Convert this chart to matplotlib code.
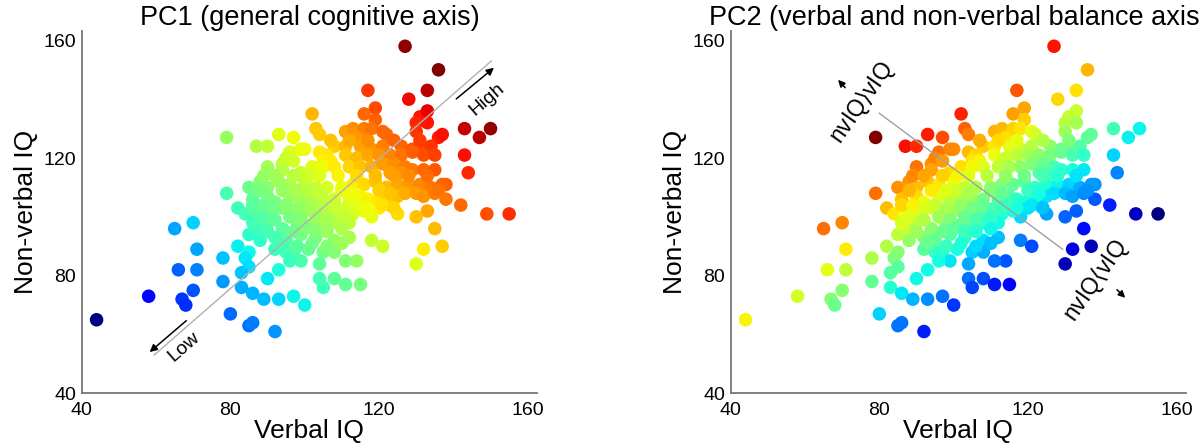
import numpy as np
import matplotlib
matplotlib.use("Agg")
import matplotlib.pyplot as plt

plt.rcParams['font.family'] = ['Liberation Sans', 'DejaVu Sans']

# verbal IQ / non-verbal IQ (same subjects in both panels)
viq = [44, 58, 65, 70, 71, 66, 71, 70, 67, 68, 79, 79, 82, 78, 78, 80, 85, 86, 92, 83,
       86, 89, 93, 90, 93, 97, 100, 104, 105, 108, 111, 115, 114, 82, 85, 84, 85, 83, 85, 88,
       87, 102, 103, 104, 93, 97, 87, 90, 100, 117, 119, 128, 133, 127, 136, 116, 119, 131, 133, 130,
       133, 130, 136, 137, 143, 150, 147, 143, 144, 142, 149, 155, 138, 138, 133, 130, 135, 137, 132, 130,
       118, 121, 125, 123, 118,
       111, 113, 116, 118, 121, 122, 114,
       108, 111, 115, 118, 121, 126, 129, 131, 134, 96, 99, 104, 106,
       94, 95, 97, 105, 107, 111, 114, 117, 120, 123, 126, 129, 132, 135,
       90, 94, 99, 102, 105, 108, 112, 115, 118, 121, 124, 127, 129, 132, 135, 123, 126,
       85, 88, 90, 93, 96, 100, 103, 106, 110, 113, 116, 119, 122, 125, 128, 131, 134, 137,
       86, 90, 92, 96, 99, 102, 105, 108, 112, 115, 117, 119, 122, 125, 127, 130, 132, 135,
       84, 87, 90, 94, 97, 100, 103, 106, 109, 113, 116, 120,
       86, 90, 94, 98, 101, 104, 108, 112,
       92, 95, 99, 103, 108, 112,
       92, 95, 97, 99, 101, 105, 108, 111, 96, 104,
       89, 92, 97, 101, 104, 109, 114, 119, 124, 128, 133,
       88, 94, 98, 101, 104, 110, 113, 120, 123, 136,
       86, 89, 92, 95, 98, 102, 105, 108, 111, 114, 117, 121, 124,
       88, 92, 96, 99, 103, 106, 110,
       90, 97, 100, 103, 106, 110,
       93, 98, 102, 106, 110,
       107, 112, 117, 124, 131]
nviq = [65, 73, 96, 98, 89, 82, 82, 75, 72, 70, 127, 108, 103, 86, 78, 67, 63, 64, 61, 76,
        74, 72, 72, 79, 82, 73, 70, 79, 76, 79, 77, 77, 85, 90, 88, 86, 83, 81, 94, 92,
        96, 135, 130, 128, 128, 127, 124, 124, 123, 143, 137, 140, 143, 158, 150, 135, 133, 134, 136, 132,
        132, 129, 127, 128, 130, 130, 127, 121, 115, 104, 101, 101, 111, 106, 102, 100, 96, 90, 89, 84,
        92, 90, 101, 104, 100,
        129, 130, 130, 130, 129, 128, 127,
        124, 124, 124, 123, 124, 124, 123, 124, 124, 122, 123, 122, 121,
        118, 120, 119, 119, 119, 121, 120, 121, 121, 121, 121, 122, 121, 121,
        117, 116, 115, 117, 117, 117, 117, 117, 117, 118, 118, 117, 116, 116, 116, 115, 115,
        110, 112, 110, 112, 111, 112, 110, 110, 110, 111, 111, 112, 110, 111, 111, 111, 110, 111,
        106, 107, 105, 107, 106, 107, 106, 106, 106, 107, 106, 105, 107, 107, 108, 108, 107, 108,
        101, 101, 102, 103, 101, 102, 101, 101, 102, 101, 102, 103,
        98, 98, 96, 98, 97, 98, 98, 98,
        93, 92, 94, 93, 92, 93,
        89, 88, 88, 85, 89, 88, 88, 85, 85, 84,
        114, 114, 114, 114, 114, 114, 114, 114, 114, 114, 114,
        109, 109, 109, 109, 108, 109, 108, 109, 108, 109,
        104, 104, 103, 104, 103, 104, 103, 104, 103, 104, 103, 104, 103,
        100, 99, 100, 99, 100, 99, 100,
        95, 95, 96, 95, 95, 96,
        91, 90, 91, 90, 91,
        126, 126, 126, 126, 126]

ticks = [40, 80, 120, 160]
titles = ['PC1 (general cognitive axis)', 'PC2 (verbal and non-verbal balance axis)']

data = np.column_stack([viq, nviq]).astype(float)
centered = data - data.mean(axis=0)
u, s, vt = np.linalg.svd(centered, full_matrices=False)
scores = centered @ vt.T
if np.corrcoef(scores[:, 0], data.sum(axis=1))[0, 1] < 0:
    scores[:, 0] *= -1
if np.corrcoef(scores[:, 1], data[:, 1] - data[:, 0])[0, 1] < 0:
    scores[:, 1] *= -1


def norm(v):
    return (v - v.min()) / (v.max() - v.min())


fig = plt.figure(figsize=(12, 4.45), dpi=100)
ax1 = fig.add_axes([0.0681, 0.1162, 0.3794, 0.8142])
ax2 = fig.add_axes([0.6089, 0.1162, 0.3794, 0.8142])

for i, ax in enumerate([ax1, ax2]):
    ax.scatter(viq, nviq, s=95, c=plt.cm.jet(norm(scores[:, i])), edgecolors='none', zorder=3)
    ax.set_xlim(40, 162.5)
    ax.set_ylim(40, 163.2)
    ax.set_xticks(ticks)
    ax.set_yticks(ticks)
    ax.tick_params(length=0, labelsize=14, pad=4)
    ax.tick_params(axis='x', pad=6)
    for side in ['top', 'right']:
        ax.spines[side].set_visible(False)
    for side in ['left', 'bottom']:
        ax.spines[side].set_color('#777777')
        ax.spines[side].set_linewidth(1.3)
    ax.set_xlabel('Verbal IQ', fontsize=19, labelpad=0)
    ax.set_ylabel('Non-verbal IQ', fontsize=19, labelpad=4)
    ax.set_title(titles[i], fontsize=19.5, pad=4)

arrow = dict(arrowstyle='-|>', color='k', lw=1.1, mutation_scale=11)

# PC1 axis
ax1.plot([59.5, 150.2], [53.0, 153.0], color='#b0b0b0', lw=1, zorder=4)
ax1.annotate('', xy=(151.5, 151.3), xytext=(140.2, 139.5), arrowprops=arrow, zorder=5)
ax1.annotate('', xy=(57.7, 53.4), xytext=(68.7, 65.3), arrowprops=arrow, zorder=5)
ax1.text(149.0, 139.8, 'High', rotation=41, fontsize=14, ha='center', va='center')
ax1.text(67.4, 55.8, 'Low', rotation=41, fontsize=14, ha='center', va='center')

# PC2 axis
ax2.plot([80.0, 129.3], [135.2, 89.0], color='#a0a0a0', lw=1, zorder=4)
small = dict(arrowstyle='-|>', color='k', lw=1.1, mutation_scale=10)
ax2.annotate('', xy=(68.4, 147.3), xytext=(71.3, 143.2), arrowprops=small, zorder=5)
ax2.annotate('', xy=(146.7, 71.8), xytext=(143.4, 75.9), arrowprops=small, zorder=5)
ax2.text(75.4, 138.6, 'nvIQ$\\rangle$vIQ', rotation=55, fontsize=16.5, ha='center', va='center')
ax2.text(138.3, 78.3, 'nvIQ$\\langle$vIQ', rotation=55, fontsize=16.5, ha='center', va='center')

fig.savefig('out.png', dpi=100)
